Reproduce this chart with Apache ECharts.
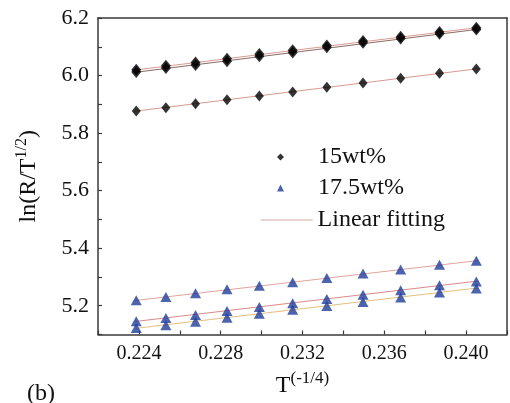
<!DOCTYPE html>
<html><head><meta charset="utf-8">
<script src="https://cdn.jsdelivr.net/npm/echarts@6/dist/echarts.min.js"></script>
<style>html,body{margin:0;padding:0;background:#fff}#c{width:510px;height:403px}</style>
</head><body><div id="c"></div>
<script>
// x values: T^(-1/4)
var xVals = [0.22387, 0.22532, 0.22677, 0.22831, 0.22989, 0.23152, 0.23319, 0.23496, 0.23680, 0.23870, 0.24050];
// 15wt% (black diamonds)
var black1 = [6.020, 6.034, 6.045, 6.058, 6.075, 6.088, 6.104, 6.120, 6.135, 6.151, 6.166];
var black2 = [6.012, 6.026, 6.037, 6.050, 6.067, 6.080, 6.098, 6.114, 6.129, 6.145, 6.160];
var black3 = [5.877, 5.888, 5.902, 5.916, 5.929, 5.943, 5.959, 5.974, 5.991, 6.008, 6.023];
// 17.5wt% (blue triangles)
var blue1 = [5.219, 5.230, 5.243, 5.257, 5.269, 5.282, 5.296, 5.312, 5.326, 5.342, 5.356];
var blue2 = [5.146, 5.157, 5.168, 5.182, 5.196, 5.209, 5.223, 5.238, 5.254, 5.271, 5.284];
var blue3 = [5.123, 5.132, 5.144, 5.158, 5.172, 5.186, 5.199, 5.213, 5.229, 5.246, 5.260];
// linear fitting end points (x range and y at both ends)
var fitX = [0.2238, 0.2406];
var fitBlack1 = [6.019, 6.167];
var fitBlack2 = [6.011, 6.161];
var fitBlack3 = [5.876, 6.024];
var fitBlue1 = [5.218, 5.357];
var fitBlue2 = [5.145, 5.286];
var fitBlue3 = [5.121, 5.262];
var xTickLabels = ['0.224', '0.228', '0.232', '0.236', '0.240'];
var yTickLabels = ['5.2', '5.4', '5.6', '5.8', '6.0', '6.2'];

function pts(ys) { return xVals.map(function (x, i) { return [x, ys[i]]; }); }
function fit(ys) { return [[fitX[0], ys[0]], [fitX[1], ys[1]]]; }

var serif = 'Liberation Serif';
var axisCol = '#3a3a3a';

function scatter(name, ys, sym, size, color) {
  return { type: 'scatter', name: name, data: pts(ys), symbol: sym, symbolSize: size,
    itemStyle: { color: color }, z: 5 };
}
function fitLine(ys, color) {
  return { type: 'line', name: 'Linear fitting', data: fit(ys), symbol: 'none', showSymbol: false,
    itemStyle: { color: color }, lineStyle: { color: color, width: 1 }, z: 3, silent: true };
}

var chart = echarts.init(document.getElementById('c'), null, { renderer: 'canvas' });
chart.setOption({
  animation: false,
  backgroundColor: '#fff',
  grid: { left: 98, right: -9, top: 18, bottom: 54, containLabel: false },
  xAxis: [{
    type: 'value', min: 0.222, max: 0.242, interval: 0.002,
    name: '{t|T}{s|(-1/4)}', nameLocation: 'middle', nameGap: 36,
    nameTextStyle: { rich: {
      t: { fontFamily: serif, fontSize: 24, color: '#111' },
      s: { fontFamily: serif, fontSize: 17, color: '#111', padding: [0, 0, 14, 0] } } },
    axisLine: { lineStyle: { color: axisCol, width: 1.5 } },
    axisTick: { inside: true, length: 4, lineStyle: { color: axisCol, width: 1.2 } },
    axisLabel: { fontFamily: serif, fontSize: 20, color: '#111', margin: 9,
      formatter: function (v) { var k = Math.round(v * 1000); return (k % 4 === 0) ? xTickLabels[(k - 224) / 4] || '' : ''; } },
    splitLine: { show: false }
  }, {
    type: 'value', position: 'top', min: 0.222, max: 0.242, interval: 0.002,
    axisLine: { show: true, lineStyle: { color: axisCol, width: 1.5 } },
    axisTick: { show: false }, axisLabel: { show: false }, splitLine: { show: false }
  }],
  yAxis: [{
    type: 'value', min: 5.1, max: 6.2, interval: 0.1,
    name: '{a|ln(R/T}{s|1/2}{a|)}', nameLocation: 'middle', nameGap: 54, nameRotate: 90,
    nameTextStyle: { rich: {
      a: { fontFamily: serif, fontSize: 24, color: '#111' },
      s: { fontFamily: serif, fontSize: 16, color: '#111', padding: [0, 0, 14, 0] } } },
    axisLine: { show: true, lineStyle: { color: axisCol, width: 1.5 } },
    axisTick: { inside: true, length: 4, lineStyle: { color: axisCol, width: 1.2 } },
    axisLabel: { fontFamily: serif, fontSize: 22, color: '#111', margin: 9,
      formatter: function (v) { var k = Math.round(v * 10); return (k % 2 === 0) ? yTickLabels[(k - 52) / 2] || '' : ''; } },
    splitLine: { show: false }
  }, {
    type: 'value', position: 'right', min: 5.1, max: 6.2, interval: 0.1,
    axisLine: { show: true, lineStyle: { color: axisCol, width: 1.5 } },
    axisTick: { show: false }, axisLabel: { show: false }, splitLine: { show: false }
  }],
  legend: [{
    data: ['15wt%', '17.5wt%'], orient: 'vertical', left: 272, top: 140,
    itemWidth: 7, itemHeight: 7, itemGap: 7, selectedMode: false,
    textStyle: { fontFamily: serif, fontSize: 24, color: '#111', padding: [0, 0, 0, 29] }
  }, {
    data: [{ name: 'Linear fitting', itemStyle: { opacity: 0 },
      lineStyle: { color: '#d4aaa8', width: 1.2 } }],
    left: 255, top: 203, itemWidth: 52, itemHeight: 10, selectedMode: false,
    textStyle: { fontFamily: serif, fontSize: 24, color: '#111', padding: [0, 0, 0, 0] }
  }],
  graphic: [{
    type: 'text', left: 27, top: 382,
    style: { text: '(b)', font: '24px "Liberation Serif"', fill: '#111' }
  }],
  series: [
    fitLine(fitBlack1, '#d99a94'),
    fitLine(fitBlack2, '#8a6a66'),
    fitLine(fitBlack3, '#d99a94'),
    fitLine(fitBlue1, '#e3a49c'),
    fitLine(fitBlue2, '#d98a8a'),
    fitLine(fitBlue3, '#e6bf80'),
    scatter('15wt%', black1, 'diamond', [10, 12], '#000'),
    scatter('15wt%', black2, 'diamond', [10, 12], '#000'),
    scatter('15wt%', black3, 'diamond', [9, 11], '#000'),
    scatter('17.5wt%', blue1, 'triangle', [11, 10], '#1f3c98'),
    scatter('17.5wt%', blue2, 'triangle', [11, 10], '#1f3c98'),
    scatter('17.5wt%', blue3, 'triangle', [11, 10], '#1f3c98')
  ]
});
</script></body></html>
